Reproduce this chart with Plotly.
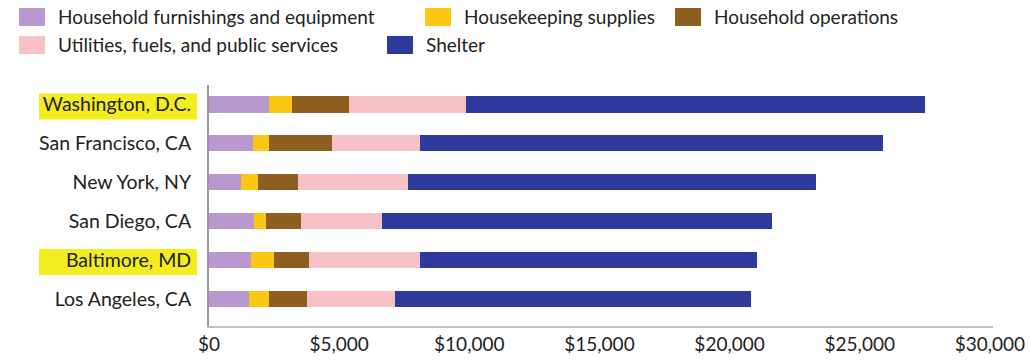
import plotly.graph_objects as go

cities = ["Washington, D.C.", "San Francisco, CA", "New York, NY",
          "San Diego, CA", "Baltimore, MD", "Los Angeles, CA"]
furnishings = [2310, 1690, 1240, 1710, 1620, 1540]
housekeeping = [890, 630, 640, 480, 860, 780]
operations = [2180, 2400, 1520, 1350, 1370, 1440]
utilities = [4500, 3390, 4260, 3100, 4260, 3390]
shelter = [17620, 17770, 15650, 14980, 12930, 13670]

series_names = ["Household furnishings and equipment", "Housekeeping supplies",
                "Household operations", "Utilities, fuels, and public services", "Shelter"]
series_vals = [furnishings, housekeeping, operations, utilities, shelter]
colors = ["#B898CE", "#FCC712", "#8F5F1F", "#F6C2C7", "#2F3B9C"]
highlighted = ["Washington, D.C.", "Baltimore, MD"]

tick_vals = [0, 5000, 10000, 15000, 20000, 25000, 30000]
tick_text = ["$0", "$5,000", "$10,000", "$15,000", "$20,000", "$25,000", "$30,000"]

FONT = "Lato"
PAGE_W, PAGE_H = 1030, 361
PL, PR, PT, PB = 209, 993, 85, 326  # plot area in page pixels
W, H = PAGE_W, PAGE_H
ML, MR, MT, MB = PL, PAGE_W - PR, PT, PAGE_H - PB

def px(x):
    return (x - PL) / (PR - PL)

def py(y):
    return (PB - y) / (PB - PT)

fig = go.Figure()
for name, vals, col in zip(series_names, series_vals, colors):
    fig.add_trace(go.Bar(y=cities, x=vals, name=name, orientation="h",
                         marker=dict(color=col, line=dict(width=0)),
                         showlegend=False))

shapes = []
annotations = []
# highlight boxes behind selected category labels
for c in highlighted:
    shapes.append(dict(type="rect", xref="paper", yref="y", layer="below",
                       x0=px(39), x1=px(197), ysizemode="pixel", yanchor=c,
                       y0=-15, y1=11, line=dict(width=0), fillcolor="#F3EC1E"))
# manual legend
legend_items = [
    (series_names[0], colors[0], 19, 17),
    (series_names[1], colors[1], 425, 17),
    (series_names[2], colors[2], 675, 17),
    (series_names[3], colors[3], 19, 45),
    (series_names[4], colors[4], 387, 45),
]
for name, col, x0, yc in legend_items:
    shapes.append(dict(type="rect", xref="paper", yref="paper",
                       x0=px(x0), x1=px(x0 + 26), y0=py(yc + 9), y1=py(yc - 9),
                       line=dict(width=0), fillcolor=col))
    annotations.append(dict(xref="paper", yref="paper", x=px(x0 + 37), y=py(yc),
                            text=name, showarrow=False, xanchor="left", yanchor="middle",
                            font=dict(family=FONT, size=19, color="#222")))

fig.update_layout(
    barmode="stack",
    bargap=0.58,
    width=W, height=H,
    margin=dict(l=ML, r=MR, t=MT, b=MB, autoexpand=False, pad=0),
    paper_bgcolor="white", plot_bgcolor="white",
    font=dict(family=FONT, size=19, color="#222"),
    hovermode=False,
    shapes=shapes,
    annotations=annotations,
    xaxis=dict(range=[0, 30120], tickvals=tick_vals, ticktext=tick_text,
               showgrid=False, zeroline=False, showline=True, linecolor="#C9BEBA",
               linewidth=2, ticks="", automargin=False,
               tickfont=dict(size=19, color="#222")),
    yaxis=dict(categoryorder="array", categoryarray=cities[::-1],
               range=[-0.7, 5.5], showgrid=False, zeroline=False, showline=True,
               linecolor="#9A9A9A", linewidth=2, ticks="", ticklabelstandoff=12,
               automargin=False, tickfont=dict(size=19.5, color="#222")),
)
fig.write_html("out.html", config={"displayModeBar": False, "staticPlot": True},
               post_script="document.body.style.margin='0';document.body.style.overflow='hidden';")
